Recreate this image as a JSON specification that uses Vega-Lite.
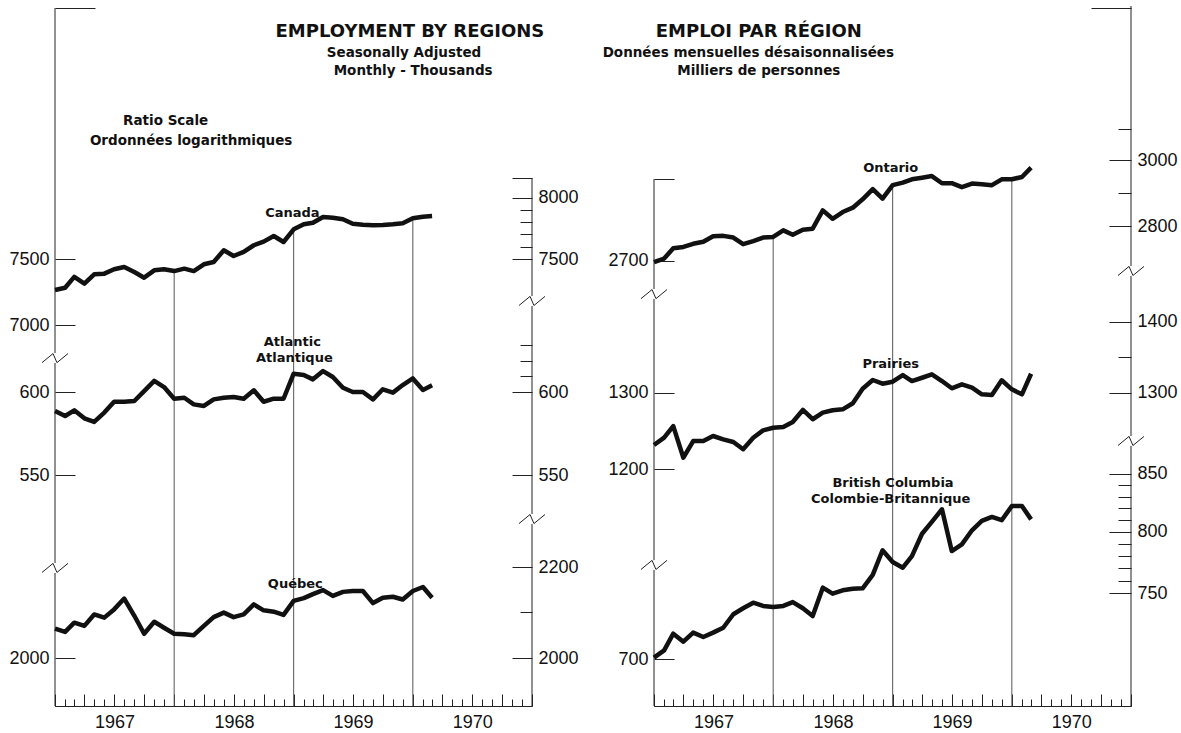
{
  "$schema": "https://vega.github.io/schema/vega-lite/v6.json",
  "background": "white",
  "padding": {"left": 8, "top": 5, "right": 0, "bottom": 0},
  "bounds": "flush",
  "spacing": 122,
  "config": {
    "view": {"stroke": null},
    "axis": {"labelFont": "Liberation Sans", "labelFontSize": 18, "labelColor": "#111", "tickColor": "#222", "tickWidth": 1, "domain": false, "grid": false, "title": null}
  },
  "datasets": {
    "canada": [
      {"date":"1967-01-01","value":7263},{"date":"1967-02-01","value":7280},{"date":"1967-03-01","value":7363},{"date":"1967-04-01","value":7311},{"date":"1967-05-01","value":7383},{"date":"1967-06-01","value":7388},{"date":"1967-07-01","value":7422},{"date":"1967-08-01","value":7440},{"date":"1967-09-01","value":7401},{"date":"1967-10-01","value":7357},{"date":"1967-11-01","value":7414},{"date":"1967-12-01","value":7422},
      {"date":"1968-01-01","value":7408},{"date":"1968-02-01","value":7427},{"date":"1968-03-01","value":7408},{"date":"1968-04-01","value":7461},{"date":"1968-05-01","value":7479},{"date":"1968-06-01","value":7571},{"date":"1968-07-01","value":7526},{"date":"1968-08-01","value":7558},{"date":"1968-09-01","value":7611},{"date":"1968-10-01","value":7640},{"date":"1968-11-01","value":7685},{"date":"1968-12-01","value":7637},
      {"date":"1969-01-01","value":7739},{"date":"1969-02-01","value":7780},{"date":"1969-03-01","value":7793},{"date":"1969-04-01","value":7840},{"date":"1969-05-01","value":7834},{"date":"1969-06-01","value":7821},{"date":"1969-07-01","value":7784},{"date":"1969-08-01","value":7777},{"date":"1969-09-01","value":7772},{"date":"1969-10-01","value":7774},{"date":"1969-11-01","value":7780},{"date":"1969-12-01","value":7788},
      {"date":"1970-01-01","value":7829},{"date":"1970-02-01","value":7842},{"date":"1970-03-01","value":7848}
    ],
    "atlantic": [
      {"date":"1967-01-01","value":588.2},{"date":"1967-02-01","value":585.1},{"date":"1967-03-01","value":588.6},{"date":"1967-04-01","value":583.7},{"date":"1967-05-01","value":581.5},{"date":"1967-06-01","value":587.2},{"date":"1967-07-01","value":593.9},{"date":"1967-08-01","value":593.9},{"date":"1967-09-01","value":594.4},{"date":"1967-10-01","value":600.6},{"date":"1967-11-01","value":607.0},{"date":"1967-12-01","value":603.1},
      {"date":"1968-01-01","value":595.8},{"date":"1968-02-01","value":596.4},{"date":"1968-03-01","value":592.3},{"date":"1968-04-01","value":591.3},{"date":"1968-05-01","value":595.4},{"date":"1968-06-01","value":596.4},{"date":"1968-07-01","value":596.9},{"date":"1968-08-01","value":595.8},{"date":"1968-09-01","value":601.1},{"date":"1968-10-01","value":593.9},{"date":"1968-11-01","value":595.8},{"date":"1968-12-01","value":595.8},
      {"date":"1969-01-01","value":611.6},{"date":"1969-02-01","value":610.8},{"date":"1969-03-01","value":608.0},{"date":"1969-04-01","value":613.3},{"date":"1969-05-01","value":609.5},{"date":"1969-06-01","value":602.7},{"date":"1969-07-01","value":600.0},{"date":"1969-08-01","value":600.0},{"date":"1969-09-01","value":595.4},{"date":"1969-10-01","value":601.7},{"date":"1969-11-01","value":599.6},{"date":"1969-12-01","value":604.4},
      {"date":"1970-01-01","value":608.6},{"date":"1970-02-01","value":601.3},{"date":"1970-03-01","value":604.2}
    ],
    "quebec": [
      {"date":"1967-01-01","value":2063},{"date":"1967-02-01","value":2056},{"date":"1967-03-01","value":2076},{"date":"1967-04-01","value":2069},{"date":"1967-05-01","value":2094},{"date":"1967-06-01","value":2087},{"date":"1967-07-01","value":2105},{"date":"1967-08-01","value":2129},{"date":"1967-09-01","value":2091},{"date":"1967-10-01","value":2052},{"date":"1967-11-01","value":2078},{"date":"1967-12-01","value":2065},
      {"date":"1968-01-01","value":2052},{"date":"1968-02-01","value":2051},{"date":"1968-03-01","value":2049},{"date":"1968-04-01","value":2069},{"date":"1968-05-01","value":2088},{"date":"1968-06-01","value":2098},{"date":"1968-07-01","value":2088},{"date":"1968-08-01","value":2094},{"date":"1968-09-01","value":2116},{"date":"1968-10-01","value":2103},{"date":"1968-11-01","value":2100},{"date":"1968-12-01","value":2093},
      {"date":"1969-01-01","value":2124},{"date":"1969-02-01","value":2130},{"date":"1969-03-01","value":2139},{"date":"1969-04-01","value":2148},{"date":"1969-05-01","value":2135},{"date":"1969-06-01","value":2144},{"date":"1969-07-01","value":2146},{"date":"1969-08-01","value":2146},{"date":"1969-09-01","value":2119},{"date":"1969-10-01","value":2131},{"date":"1969-11-01","value":2133},{"date":"1969-12-01","value":2127},
      {"date":"1970-01-01","value":2146},{"date":"1970-02-01","value":2155},{"date":"1970-03-01","value":2131}
    ],
    "ontario": [
      {"date":"1967-01-01","value":2697},{"date":"1967-02-01","value":2707},{"date":"1967-03-01","value":2736},{"date":"1967-04-01","value":2740},{"date":"1967-05-01","value":2749},{"date":"1967-06-01","value":2755},{"date":"1967-07-01","value":2771},{"date":"1967-08-01","value":2772},{"date":"1967-09-01","value":2767},{"date":"1967-10-01","value":2748},{"date":"1967-11-01","value":2757},{"date":"1967-12-01","value":2767},
      {"date":"1968-01-01","value":2769},{"date":"1968-02-01","value":2788},{"date":"1968-03-01","value":2775},{"date":"1968-04-01","value":2790},{"date":"1968-05-01","value":2793},{"date":"1968-06-01","value":2847},{"date":"1968-07-01","value":2822},{"date":"1968-08-01","value":2842},{"date":"1968-09-01","value":2855},{"date":"1968-10-01","value":2880},{"date":"1968-11-01","value":2911},{"date":"1968-12-01","value":2882},
      {"date":"1969-01-01","value":2923},{"date":"1969-02-01","value":2931},{"date":"1969-03-01","value":2941},{"date":"1969-04-01","value":2946},{"date":"1969-05-01","value":2951},{"date":"1969-06-01","value":2929},{"date":"1969-07-01","value":2929},{"date":"1969-08-01","value":2917},{"date":"1969-09-01","value":2928},{"date":"1969-10-01","value":2926},{"date":"1969-11-01","value":2923},{"date":"1969-12-01","value":2941},
      {"date":"1970-01-01","value":2941},{"date":"1970-02-01","value":2948},{"date":"1970-03-01","value":2977}
    ],
    "prairies": [
      {"date":"1967-01-01","value":1230.8},{"date":"1967-02-01","value":1240.2},{"date":"1967-03-01","value":1255.4},{"date":"1967-04-01","value":1214.5},{"date":"1967-05-01","value":1235.9},{"date":"1967-06-01","value":1235.9},{"date":"1967-07-01","value":1242.4},{"date":"1967-08-01","value":1238.1},{"date":"1967-09-01","value":1234.6},{"date":"1967-10-01","value":1225.3},{"date":"1967-11-01","value":1240.2},{"date":"1967-12-01","value":1249.8},
      {"date":"1968-01-01","value":1253.2},{"date":"1968-02-01","value":1254.1},{"date":"1968-03-01","value":1260.7},{"date":"1968-04-01","value":1276.7},{"date":"1968-05-01","value":1264.4},{"date":"1968-06-01","value":1273.1},{"date":"1968-07-01","value":1276.3},{"date":"1968-08-01","value":1277.6},{"date":"1968-09-01","value":1285.7},{"date":"1968-10-01","value":1305.5},{"date":"1968-11-01","value":1317.4},{"date":"1968-12-01","value":1312.3},
      {"date":"1969-01-01","value":1315.1},{"date":"1969-02-01","value":1324.3},{"date":"1969-03-01","value":1316.0},{"date":"1969-04-01","value":1320.5},{"date":"1969-05-01","value":1325.2},{"date":"1969-06-01","value":1316.0},{"date":"1969-07-01","value":1306.0},{"date":"1969-08-01","value":1311.5},{"date":"1969-09-01","value":1306.8},{"date":"1969-10-01","value":1297.8},{"date":"1969-11-01","value":1296.9},{"date":"1969-12-01","value":1317.0},
      {"date":"1970-01-01","value":1304.6},{"date":"1970-02-01","value":1297.8},{"date":"1970-03-01","value":1326.1}
    ],
    "bc": [
      {"date":"1967-01-01","value":701.2},{"date":"1967-02-01","value":706.6},{"date":"1967-03-01","value":719.0},{"date":"1967-04-01","value":713.0},{"date":"1967-05-01","value":719.8},{"date":"1967-06-01","value":716.5},{"date":"1967-07-01","value":719.8},{"date":"1967-08-01","value":723.5},{"date":"1967-09-01","value":733.8},{"date":"1967-10-01","value":738.4},{"date":"1967-11-01","value":742.7},{"date":"1967-12-01","value":740.2},
      {"date":"1968-01-01","value":739.4},{"date":"1968-02-01","value":740.2},{"date":"1968-03-01","value":743.2},{"date":"1968-04-01","value":738.4},{"date":"1968-05-01","value":732.4},{"date":"1968-06-01","value":754.5},{"date":"1968-07-01","value":749.8},{"date":"1968-08-01","value":752.4},{"date":"1968-09-01","value":753.7},{"date":"1968-10-01","value":754.0},{"date":"1968-11-01","value":764.6},{"date":"1968-12-01","value":784.6},
      {"date":"1969-01-01","value":775.0},{"date":"1969-02-01","value":770.4},{"date":"1969-03-01","value":779.8},{"date":"1969-04-01","value":798.3},{"date":"1969-05-01","value":808.3},{"date":"1969-06-01","value":819.0},{"date":"1969-07-01","value":784.0},{"date":"1969-08-01","value":789.5},{"date":"1969-09-01","value":801.2},{"date":"1969-10-01","value":809.1},{"date":"1969-11-01","value":812.5},{"date":"1969-12-01","value":809.7},
      {"date":"1970-01-01","value":821.8},{"date":"1970-02-01","value":821.8},{"date":"1970-03-01","value":810.4}
    ],
    "segments": [
      {"series":"Canada","date":"1967-01-01","lo":6799,"hi":9756},
      {"series":"Canada","date":"1971-01-01","lo":7217,"hi":8166.5},
      {"series":"Atlantic","date":"1967-01-01","lo":501.7,"hi":618.5},
      {"series":"Atlantic","date":"1971-01-01","lo":528.1,"hi":656.5},
      {"series":"Quebec","date":"1967-01-01","lo":1902.6,"hi":2186.8},
      {"series":"Quebec","date":"1971-01-01","lo":1902.6,"hi":2301.7},
      {"series":"Ontario","date":"1967-01-01","lo":2622,"hi":2942},
      {"series":"Ontario","date":"1971-01-01","lo":2686,"hi":3525.9},
      {"series":"Prairies","date":"1967-01-01","lo":1091,"hi":1434},
      {"series":"Prairies","date":"1971-01-01","lo":1242.4,"hi":1469},
      {"series":"BC","date":"1967-01-01","lo":666.6,"hi":768.6},
      {"series":"BC","date":"1971-01-01","lo":666.6,"hi":875.2}
    ],
    "breaks": [
      {"series":"Canada","date":"1967-01-01","value":6763},
      {"series":"Canada","date":"1971-01-01","value":7180},
      {"series":"Atlantic","date":"1967-01-01","value":499.1},
      {"series":"Atlantic","date":"1971-01-01","value":525.3},
      {"series":"Ontario","date":"1967-01-01","value":2608},
      {"series":"Ontario","date":"1971-01-01","value":2672},
      {"series":"Prairies","date":"1967-01-01","value":1085.6},
      {"series":"Prairies","date":"1971-01-01","value":1236}
    ],
    "titles": [
      {"series":"Canada","text":"EMPLOYMENT BY REGIONS","date":"1969-12-23","value":9514.5},
      {"series":"Ontario","text":"EMPLOI PAR RÉGION","date":"1967-11-18","value":3431.3}
    ],
    "subtitles": [
      {"series":"Canada","text":"Seasonally Adjusted","date":"1969-12-05","value":9307.7},
      {"series":"Canada","text":"Monthly - Thousands","date":"1970-01-02","value":9133.9},
      {"series":"Canada","text":"Ratio Scale","date":"1967-12-06","value":8668},
      {"series":"Canada","text":"Ordonnées logarithmiques","date":"1968-02-22","value":8488.5},
      {"series":"Ontario","text":"Données mensuelles désaisonnalisées","date":"1967-10-17","value":3356.7},
      {"series":"Ontario","text":"Milliers de personnes","date":"1967-11-18","value":3294.0}
    ],
    "labels": [
      {"series":"Canada","text":"Canada","date":"1968-12-28","value":7875},
      {"series":"Atlantic","text":"Atlantic","date":"1968-12-28","value":632.4},
      {"series":"Atlantic","text":"Atlantique","date":"1969-01-03","value":621.9},
      {"series":"Quebec","text":"Québec","date":"1969-01-06","value":2162.4},
      {"series":"Ontario","text":"Ontario","date":"1968-12-26","value":2977.2},
      {"series":"Prairies","text":"Prairies","date":"1968-12-26","value":1340.1},
      {"series":"BC","text":"British Columbia","date":"1969-01-02","value":841.8},
      {"series":"BC","text":"Colombie-Britannique","date":"1968-12-26","value":827.6}
    ]
  },
  "hconcat": [
    {
      "width": 477, "height": 700,
      "resolve": {"scale": {"y": "independent"}, "axis": {"x": "independent", "y": "independent"}},
      "layer": [
        {
          "resolve": {"axis": {"x": "independent", "y": "independent"}},
          "layer": [
            {"data": {"name": "canada", "format": {"parse": {"date": "date"}}},
             "transform": [{"filter": "utcmonth(datum.date) === 0 && utcyear(datum.date) > 1967"}],
             "mark": {"type": "rule", "color": "#555", "strokeWidth": 1},
             "encoding": {
               "x": {"field": "date", "type": "temporal", "scale": {"type": "utc", "domain": [{"year":1967,"month":1,"date":1,"utc":true},{"year":1971,"month":1,"date":1,"utc":true}], "nice": false}, "axis": null},
               "y": {"field": "value", "type": "quantitative", "scale": {"type": "log", "domain": [4698.9, 9776.9], "nice": false}, "axis": {"orient": "left", "values": [7000, 7500], "tickSize": -20, "labelPadding": 26, "format": "d", "title": null}},
               "y2": {"datum": 4698.9}}},
            {"data": {"name": "segments"},
             "transform": [{"filter": "datum.series === 'Canada'"}],
             "mark": {"type": "rule", "color": "#222", "strokeWidth": 1},
             "encoding": {
               "x": {"field": "date", "type": "temporal", "scale": {"type": "utc", "domain": [{"year":1967,"month":1,"date":1,"utc":true},{"year":1971,"month":1,"date":1,"utc":true}], "nice": false}, "axis": null},
               "y": {"field": "lo", "type": "quantitative", "scale": {"type": "log", "domain": [4698.9, 9776.9], "nice": false}, "axis": {"orient": "right", "values": [7500, 8000, 8166.5], "tickSize": -20, "labelPadding": 26, "format": "d", "labelExpr": "datum.value > 8100 ? '' : datum.label", "title": null}},
               "y2": {"field": "hi"}}},
            {"data": {"name": "breaks"},
             "transform": [{"filter": "datum.series === 'Canada'"}],
             "mark": {"type": "point", "shape": "M-1,0.35L-0.15,-0.35L0.15,0.35L1,-0.35", "filled": false, "stroke": "#222", "strokeWidth": 1, "size": 676, "opacity": 1},
             "encoding": {
               "x": {"field": "date", "type": "temporal", "scale": {"type": "utc", "domain": [{"year":1967,"month":1,"date":1,"utc":true},{"year":1971,"month":1,"date":1,"utc":true}], "nice": false}, "axis": null},
               "y": {"field": "value", "type": "quantitative", "scale": {"type": "log", "domain": [4698.9, 9776.9], "nice": false}, "axis": {"orient": "right", "values": [7600, 7700, 7800, 7900], "tickSize": -12, "labels": false, "title": null}}}},
            {"data": {"name": "canada"},
             "mark": {"type": "line", "color": "#111", "strokeWidth": 4.5, "strokeJoin": "round"},
             "encoding": {
               "x": {"field": "date", "type": "temporal", "scale": {"type": "utc", "domain": [{"year":1967,"month":1,"date":1,"utc":true},{"year":1971,"month":1,"date":1,"utc":true}], "nice": false}, "axis": {"orient": "bottom", "tickCount": {"interval": "month", "step": 1}, "tickSize": -7, "labels": false, "domain": true, "domainColor": "#222", "domainWidth": 1, "title": null}},
               "y": {"field": "value", "type": "quantitative", "scale": {"type": "log", "domain": [4698.9, 9776.9], "nice": false}, "axis": {"orient": "left", "values": [9756], "tickSize": -40, "labels": false, "title": null}}}},
            {"data": {"name": "titles"},
             "transform": [{"filter": "datum.series === 'Canada'"}],
             "mark": {"type": "text", "font": "DejaVu Sans", "fontSize": 18, "fontWeight": "bold", "align": "center", "baseline": "middle", "color": "#111"},
             "encoding": {
               "x": {"field": "date", "type": "temporal", "scale": {"type": "utc", "domain": [{"year":1967,"month":1,"date":1,"utc":true},{"year":1971,"month":1,"date":1,"utc":true}], "nice": false}, "axis": null},
               "y": {"field": "value", "type": "quantitative", "scale": {"type": "log", "domain": [4698.9, 9776.9], "nice": false}, "axis": null},
               "text": {"field": "text"}}},
            {"data": {"name": "subtitles"},
             "transform": [{"filter": "datum.series === 'Canada'"}],
             "mark": {"type": "text", "font": "DejaVu Sans", "fontSize": 13.5, "fontWeight": "bold", "align": "center", "baseline": "middle", "color": "#111"},
             "encoding": {
               "x": {"field": "date", "type": "temporal", "scale": {"type": "utc", "domain": [{"year":1967,"month":1,"date":1,"utc":true},{"year":1971,"month":1,"date":1,"utc":true}], "nice": false}, "axis": null},
               "y": {"field": "value", "type": "quantitative", "scale": {"type": "log", "domain": [4698.9, 9776.9], "nice": false}, "axis": null},
               "text": {"field": "text"}}},
            {"data": {"name": "labels"},
             "transform": [{"filter": "datum.series === 'Canada'"}],
             "mark": {"type": "text", "font": "DejaVu Sans", "fontSize": 13, "fontWeight": "bold", "align": "center", "baseline": "middle", "color": "#111"},
             "encoding": {
               "x": {"field": "date", "type": "temporal", "scale": {"type": "utc", "domain": [{"year":1967,"month":1,"date":1,"utc":true},{"year":1971,"month":1,"date":1,"utc":true}], "nice": false}, "axis": null},
               "y": {"field": "value", "type": "quantitative", "scale": {"type": "log", "domain": [4698.9, 9776.9], "nice": false}, "axis": null},
               "text": {"field": "text"}}}
          ]
        },
        {
          "resolve": {"axis": {"x": "independent", "y": "independent"}},
          "layer": [
            {"data": {"name": "segments"},
             "transform": [{"filter": "datum.series === 'Atlantic'"}],
             "mark": {"type": "rule", "color": "#222", "strokeWidth": 1},
             "encoding": {
               "x": {"field": "date", "type": "temporal", "scale": {"type": "utc", "domain": [{"year":1967,"month":1,"date":1,"utc":true},{"year":1971,"month":1,"date":1,"utc":true}], "nice": false}, "axis": null},
               "y": {"field": "lo", "type": "quantitative", "scale": {"type": "log", "domain": [431.94, 898.7], "nice": false}, "axis": {"orient": "left", "values": [550, 600], "tickSize": -20, "labelPadding": 26, "format": "d", "title": null}},
               "y2": {"field": "hi"}}},
            {"data": {"name": "breaks"},
             "transform": [{"filter": "datum.series === 'Atlantic'"}],
             "mark": {"type": "point", "shape": "M-1,0.35L-0.15,-0.35L0.15,0.35L1,-0.35", "filled": false, "stroke": "#222", "strokeWidth": 1, "size": 676, "opacity": 1},
             "encoding": {
               "x": {"field": "date", "type": "temporal", "scale": {"type": "utc", "domain": [{"year":1967,"month":1,"date":1,"utc":true},{"year":1971,"month":1,"date":1,"utc":true}], "nice": false}, "axis": null},
               "y": {"field": "value", "type": "quantitative", "scale": {"type": "log", "domain": [431.94, 898.7], "nice": false}, "axis": {"orient": "right", "values": [610, 620, 630], "tickSize": -12, "labels": false, "title": null}}}},
            {"data": {"name": "atlantic"},
             "mark": {"type": "line", "color": "#111", "strokeWidth": 4.5, "strokeJoin": "round"},
             "encoding": {
               "x": {"field": "date", "type": "temporal", "scale": {"type": "utc", "domain": [{"year":1967,"month":1,"date":1,"utc":true},{"year":1971,"month":1,"date":1,"utc":true}], "nice": false}, "axis": {"orient": "bottom", "tickCount": {"interval": "month", "step": 3}, "tickSize": -12, "labels": false, "domain": false, "title": null}},
               "y": {"field": "value", "type": "quantitative", "scale": {"type": "log", "domain": [431.94, 898.7], "nice": false}, "axis": {"orient": "right", "values": [550, 600], "tickSize": -20, "labelPadding": 26, "format": "d", "title": null}}}},
            {"data": {"name": "labels"},
             "transform": [{"filter": "datum.series === 'Atlantic'"}],
             "mark": {"type": "text", "font": "DejaVu Sans", "fontSize": 13, "fontWeight": "bold", "align": "center", "baseline": "middle", "color": "#111"},
             "encoding": {
               "x": {"field": "date", "type": "temporal", "scale": {"type": "utc", "domain": [{"year":1967,"month":1,"date":1,"utc":true},{"year":1971,"month":1,"date":1,"utc":true}], "nice": false}, "axis": null},
               "y": {"field": "value", "type": "quantitative", "scale": {"type": "log", "domain": [431.94, 898.7], "nice": false}, "axis": null},
               "text": {"field": "text"}}}
          ]
        },
        {
          "resolve": {"axis": {"x": "independent", "y": "independent"}},
          "layer": [
            {"data": {"name": "segments"},
             "transform": [{"filter": "datum.series === 'Quebec'"}],
             "mark": {"type": "rule", "color": "#222", "strokeWidth": 1},
             "encoding": {
               "x": {"field": "date", "type": "temporal", "scale": {"type": "utc", "domain": [{"year":1967,"month":1,"date":1,"utc":true},{"year":1971,"month":1,"date":1,"utc":true}], "nice": false}, "axis": null},
               "y": {"field": "lo", "type": "quantitative", "scale": {"type": "log", "domain": [1902.6, 3958.5], "nice": false}, "axis": {"orient": "left", "values": [2000], "tickSize": -20, "labelPadding": 26, "format": "d", "title": null}},
               "y2": {"field": "hi"}}},
            {"data": {"name": "quebec"},
             "mark": {"type": "line", "color": "#111", "strokeWidth": 4.5, "strokeJoin": "round"},
             "encoding": {
               "x": {"field": "date", "type": "temporal", "scale": {"type": "utc", "domain": [{"year":1967,"month":1,"date":1,"utc":true},{"year":1971,"month":1,"date":1,"utc":true}], "nice": false}, "axis": {"orient": "bottom", "values": [{"year":1967,"month":7,"date":2,"utc":true},{"year":1968,"month":7,"date":2,"utc":true},{"year":1969,"month":7,"date":2,"utc":true},{"year":1970,"month":7,"date":2,"utc":true}], "ticks": false, "tickSize": 0, "labelPadding": 7, "labelExpr": "utcFormat(datum.value, '%Y')", "labelFlush": false, "labelOverlap": false, "domain": false, "title": null}},
               "y": {"field": "value", "type": "quantitative", "scale": {"type": "log", "domain": [1902.6, 3958.5], "nice": false}, "axis": {"orient": "right", "values": [2000, 2200], "tickSize": -20, "labelPadding": 26, "format": "d", "title": null}}}},
            {"data": {"name": "labels"},
             "transform": [{"filter": "datum.series === 'Quebec'"}],
             "mark": {"type": "text", "font": "DejaVu Sans", "fontSize": 13, "fontWeight": "bold", "align": "center", "baseline": "middle", "color": "#111"},
             "encoding": {
               "x": {"field": "date", "type": "temporal", "scale": {"type": "utc", "domain": [{"year":1967,"month":1,"date":1,"utc":true},{"year":1971,"month":1,"date":1,"utc":true}], "nice": false}, "axis": null},
               "y": {"field": "value", "type": "quantitative", "scale": {"type": "log", "domain": [1902.6, 3958.5], "nice": false}, "axis": {"orient": "right", "values": [2100], "tickSize": -12, "labels": false, "title": null}},
               "text": {"field": "text"}}}
          ]
        }
      ]
    },
    {
      "width": 477, "height": 700,
      "resolve": {"scale": {"y": "independent"}, "axis": {"x": "independent", "y": "independent"}},
      "layer": [
        {
          "resolve": {"axis": {"x": "independent", "y": "independent"}},
          "layer": [
            {"data": {"name": "ontario", "format": {"parse": {"date": "date"}}},
             "transform": [{"filter": "utcmonth(datum.date) === 0 && utcyear(datum.date) > 1967"}],
             "mark": {"type": "rule", "color": "#555", "strokeWidth": 1},
             "encoding": {
               "x": {"field": "date", "type": "temporal", "scale": {"type": "utc", "domain": [{"year":1967,"month":1,"date":1,"utc":true},{"year":1971,"month":1,"date":1,"utc":true}], "nice": false}, "axis": null},
               "y": {"field": "value", "type": "quantitative", "scale": {"type": "log", "domain": [1694.7, 3525.9], "nice": false}, "axis": {"orient": "left", "values": [2700, 2942], "tickSize": -20, "labelPadding": 26, "format": "d", "labelExpr": "datum.value > 2900 ? '' : datum.label", "title": null}},
               "y2": {"datum": 1694.7}}},
            {"data": {"name": "segments"},
             "transform": [{"filter": "datum.series === 'Ontario'"}],
             "mark": {"type": "rule", "color": "#222", "strokeWidth": 1},
             "encoding": {
               "x": {"field": "date", "type": "temporal", "scale": {"type": "utc", "domain": [{"year":1967,"month":1,"date":1,"utc":true},{"year":1971,"month":1,"date":1,"utc":true}], "nice": false}, "axis": null},
               "y": {"field": "lo", "type": "quantitative", "scale": {"type": "log", "domain": [1694.7, 3525.9], "nice": false}, "axis": {"orient": "right", "values": [2800, 3000], "tickSize": -22, "labelPadding": 28, "format": "d", "title": null}},
               "y2": {"field": "hi"}}},
            {"data": {"name": "breaks"},
             "transform": [{"filter": "datum.series === 'Ontario'"}],
             "mark": {"type": "point", "shape": "M-1,0.35L-0.15,-0.35L0.15,0.35L1,-0.35", "filled": false, "stroke": "#222", "strokeWidth": 1, "size": 676, "opacity": 1},
             "encoding": {
               "x": {"field": "date", "type": "temporal", "scale": {"type": "utc", "domain": [{"year":1967,"month":1,"date":1,"utc":true},{"year":1971,"month":1,"date":1,"utc":true}], "nice": false}, "axis": null},
               "y": {"field": "value", "type": "quantitative", "scale": {"type": "log", "domain": [1694.7, 3525.9], "nice": false}, "axis": {"orient": "right", "values": [2900, 3100], "tickSize": -13, "labels": false, "title": null}}}},
            {"data": {"name": "ontario"},
             "mark": {"type": "line", "color": "#111", "strokeWidth": 4.5, "strokeJoin": "round"},
             "encoding": {
               "x": {"field": "date", "type": "temporal", "scale": {"type": "utc", "domain": [{"year":1967,"month":1,"date":1,"utc":true},{"year":1971,"month":1,"date":1,"utc":true}], "nice": false}, "axis": {"orient": "bottom", "tickCount": {"interval": "month", "step": 1}, "tickSize": -7, "labels": false, "domain": true, "domainColor": "#222", "domainWidth": 1, "title": null}},
               "y": {"field": "value", "type": "quantitative", "scale": {"type": "log", "domain": [1694.7, 3525.9], "nice": false}, "axis": {"orient": "right", "values": [3520], "tickSize": -40, "labels": false, "title": null}}}},
            {"data": {"name": "titles"},
             "transform": [{"filter": "datum.series === 'Ontario'"}],
             "mark": {"type": "text", "font": "DejaVu Sans", "fontSize": 18, "fontWeight": "bold", "align": "center", "baseline": "middle", "color": "#111"},
             "encoding": {
               "x": {"field": "date", "type": "temporal", "scale": {"type": "utc", "domain": [{"year":1967,"month":1,"date":1,"utc":true},{"year":1971,"month":1,"date":1,"utc":true}], "nice": false}, "axis": null},
               "y": {"field": "value", "type": "quantitative", "scale": {"type": "log", "domain": [1694.7, 3525.9], "nice": false}, "axis": null},
               "text": {"field": "text"}}},
            {"data": {"name": "subtitles"},
             "transform": [{"filter": "datum.series === 'Ontario'"}],
             "mark": {"type": "text", "font": "DejaVu Sans", "fontSize": 13.5, "fontWeight": "bold", "align": "center", "baseline": "middle", "color": "#111"},
             "encoding": {
               "x": {"field": "date", "type": "temporal", "scale": {"type": "utc", "domain": [{"year":1967,"month":1,"date":1,"utc":true},{"year":1971,"month":1,"date":1,"utc":true}], "nice": false}, "axis": null},
               "y": {"field": "value", "type": "quantitative", "scale": {"type": "log", "domain": [1694.7, 3525.9], "nice": false}, "axis": null},
               "text": {"field": "text"}}},
            {"data": {"name": "labels"},
             "transform": [{"filter": "datum.series === 'Ontario'"}],
             "mark": {"type": "text", "font": "DejaVu Sans", "fontSize": 13, "fontWeight": "bold", "align": "center", "baseline": "middle", "color": "#111"},
             "encoding": {
               "x": {"field": "date", "type": "temporal", "scale": {"type": "utc", "domain": [{"year":1967,"month":1,"date":1,"utc":true},{"year":1971,"month":1,"date":1,"utc":true}], "nice": false}, "axis": null},
               "y": {"field": "value", "type": "quantitative", "scale": {"type": "log", "domain": [1694.7, 3525.9], "nice": false}, "axis": null},
               "text": {"field": "text"}}}
          ]
        },
        {
          "resolve": {"axis": {"x": "independent", "y": "independent"}},
          "layer": [
            {"data": {"name": "segments"},
             "transform": [{"filter": "datum.series === 'Prairies'"}],
             "mark": {"type": "rule", "color": "#222", "strokeWidth": 1},
             "encoding": {
               "x": {"field": "date", "type": "temporal", "scale": {"type": "utc", "domain": [{"year":1967,"month":1,"date":1,"utc":true},{"year":1971,"month":1,"date":1,"utc":true}], "nice": false}, "axis": null},
               "y": {"field": "lo", "type": "quantitative", "scale": {"type": "log", "domain": [936.56, 1948.6], "nice": false}, "axis": {"orient": "left", "values": [1200, 1300], "tickSize": -20, "labelPadding": 26, "format": "d", "title": null}},
               "y2": {"field": "hi"}}},
            {"data": {"name": "breaks"},
             "transform": [{"filter": "datum.series === 'Prairies'"}],
             "mark": {"type": "point", "shape": "M-1,0.35L-0.15,-0.35L0.15,0.35L1,-0.35", "filled": false, "stroke": "#222", "strokeWidth": 1, "size": 676, "opacity": 1},
             "encoding": {
               "x": {"field": "date", "type": "temporal", "scale": {"type": "utc", "domain": [{"year":1967,"month":1,"date":1,"utc":true},{"year":1971,"month":1,"date":1,"utc":true}], "nice": false}, "axis": null},
               "y": {"field": "value", "type": "quantitative", "scale": {"type": "log", "domain": [936.56, 1948.6], "nice": false}, "axis": {"orient": "right", "values": [1350], "tickSize": -13, "labels": false, "title": null}}}},
            {"data": {"name": "prairies"},
             "mark": {"type": "line", "color": "#111", "strokeWidth": 4.5, "strokeJoin": "round"},
             "encoding": {
               "x": {"field": "date", "type": "temporal", "scale": {"type": "utc", "domain": [{"year":1967,"month":1,"date":1,"utc":true},{"year":1971,"month":1,"date":1,"utc":true}], "nice": false}, "axis": {"orient": "bottom", "tickCount": {"interval": "month", "step": 3}, "tickSize": -12, "labels": false, "domain": false, "title": null}},
               "y": {"field": "value", "type": "quantitative", "scale": {"type": "log", "domain": [936.56, 1948.6], "nice": false}, "axis": {"orient": "right", "values": [1300, 1400], "tickSize": -22, "labelPadding": 28, "format": "d", "title": null}}}},
            {"data": {"name": "labels"},
             "transform": [{"filter": "datum.series === 'Prairies'"}],
             "mark": {"type": "text", "font": "DejaVu Sans", "fontSize": 13, "fontWeight": "bold", "align": "center", "baseline": "middle", "color": "#111"},
             "encoding": {
               "x": {"field": "date", "type": "temporal", "scale": {"type": "utc", "domain": [{"year":1967,"month":1,"date":1,"utc":true},{"year":1971,"month":1,"date":1,"utc":true}], "nice": false}, "axis": null},
               "y": {"field": "value", "type": "quantitative", "scale": {"type": "log", "domain": [936.56, 1948.6], "nice": false}, "axis": null},
               "text": {"field": "text"}}}
          ]
        },
        {
          "resolve": {"axis": {"x": "independent", "y": "independent"}},
          "layer": [
            {"data": {"name": "segments"},
             "transform": [{"filter": "datum.series === 'BC'"}],
             "mark": {"type": "rule", "color": "#222", "strokeWidth": 1},
             "encoding": {
               "x": {"field": "date", "type": "temporal", "scale": {"type": "utc", "domain": [{"year":1967,"month":1,"date":1,"utc":true},{"year":1971,"month":1,"date":1,"utc":true}], "nice": false}, "axis": null},
               "y": {"field": "lo", "type": "quantitative", "scale": {"type": "log", "domain": [666.6, 1386.9], "nice": false}, "axis": {"orient": "left", "values": [700], "tickSize": -20, "labelPadding": 26, "format": "d", "title": null}},
               "y2": {"field": "hi"}}},
            {"data": {"name": "bc"},
             "mark": {"type": "line", "color": "#111", "strokeWidth": 4.5, "strokeJoin": "round"},
             "encoding": {
               "x": {"field": "date", "type": "temporal", "scale": {"type": "utc", "domain": [{"year":1967,"month":1,"date":1,"utc":true},{"year":1971,"month":1,"date":1,"utc":true}], "nice": false}, "axis": {"orient": "bottom", "values": [{"year":1967,"month":7,"date":2,"utc":true},{"year":1968,"month":7,"date":2,"utc":true},{"year":1969,"month":7,"date":2,"utc":true},{"year":1970,"month":7,"date":2,"utc":true}], "ticks": false, "tickSize": 0, "labelPadding": 7, "labelExpr": "utcFormat(datum.value, '%Y')", "labelFlush": false, "labelOverlap": false, "domain": false, "title": null}},
               "y": {"field": "value", "type": "quantitative", "scale": {"type": "log", "domain": [666.6, 1386.9], "nice": false}, "axis": {"orient": "right", "values": [750, 800, 850], "tickSize": -22, "labelPadding": 28, "format": "d", "title": null}}}},
            {"data": {"name": "labels"},
             "transform": [{"filter": "datum.series === 'BC'"}],
             "mark": {"type": "text", "font": "DejaVu Sans", "fontSize": 13, "fontWeight": "bold", "align": "center", "baseline": "middle", "color": "#111"},
             "encoding": {
               "x": {"field": "date", "type": "temporal", "scale": {"type": "utc", "domain": [{"year":1967,"month":1,"date":1,"utc":true},{"year":1971,"month":1,"date":1,"utc":true}], "nice": false}, "axis": null},
               "y": {"field": "value", "type": "quantitative", "scale": {"type": "log", "domain": [666.6, 1386.9], "nice": false}, "axis": {"orient": "right", "values": [760, 770, 780, 790, 810, 820, 830, 840], "tickSize": -13, "labels": false, "title": null}},
               "text": {"field": "text"}}}
          ]
        }
      ]
    }
  ]
}
